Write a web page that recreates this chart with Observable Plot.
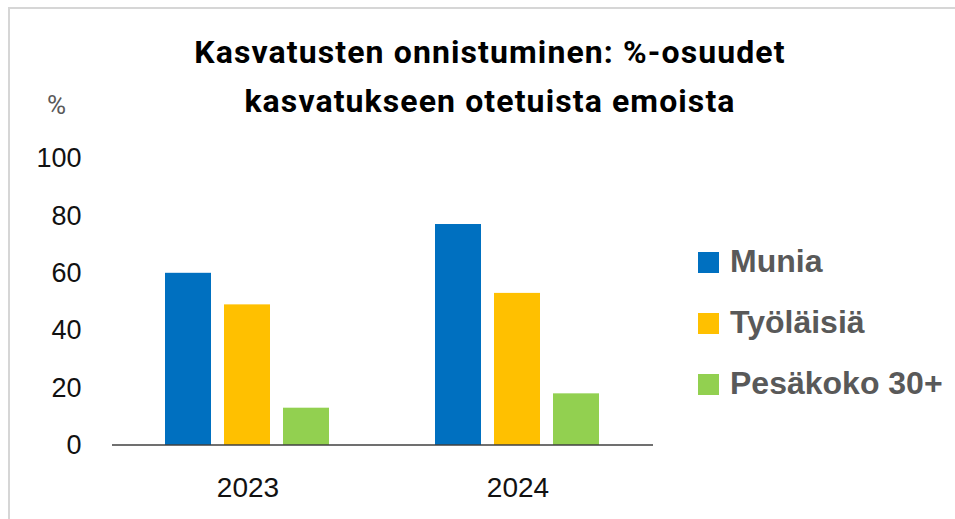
<!DOCTYPE html>
<html><head><meta charset="utf-8">
<script src="https://cdn.jsdelivr.net/npm/d3@7"></script>
<script src="https://cdn.jsdelivr.net/npm/@observablehq/plot@0.6"></script>
<style>
html,body{margin:0;padding:0;background:#fff;overflow:hidden}
#wrap{position:relative;width:955px;height:519px;overflow:hidden;background:#fff}
#border{position:absolute;left:8px;top:7px;width:1000px;height:600px;border:2px solid #d6d6d6;box-sizing:border-box}
.t{position:absolute;left:0;width:980px;text-align:center;font-family:Roboto,"Liberation Sans",sans-serif;font-weight:bold;font-size:32px;line-height:32px;letter-spacing:1.1px;color:#000;white-space:nowrap}
#unit{position:absolute;left:47px;top:92px;font-family:Roboto,"Liberation Sans",sans-serif;font-size:26px;line-height:26px;color:#595959}
.lg{position:absolute;left:0;font-family:"Liberation Sans",Arial,sans-serif;font-weight:bold;font-size:32px;line-height:32px;color:#595959;white-space:nowrap}
.sw{position:absolute;left:698px;width:21px;height:21px}
.lt{position:absolute;left:730px;top:0}
#chart{position:absolute;left:0;top:0}
</style></head>
<body><div id="wrap"><div id="border"></div><div id="chart"></div>
<div class="t" id="t1" style="top:36px"></div>
<div class="t" id="t2" style="top:85px"></div>
<div id="unit">%</div>
<div id="legend"></div>
</div>
<script>
const titleLines = ["Kasvatusten onnistuminen: %-osuudet", "kasvatukseen otetuista emoista"];
const unitLabel = "%";
const years = ["2023", "2024"];
const series = ["Munia", "Työläisiä", "Pesäkoko 30+"];
const colors = ["#0070C0", "#FFC000", "#92D050"];
const munia = [60, 77];
const tyolaisia = [49, 53];
const pesakoko = [13, 18];
const yTicks = [0, 20, 40, 60, 80, 100];

document.getElementById("t1").textContent = titleLines[0];
document.getElementById("t2").textContent = titleLines[1];
document.getElementById("unit").textContent = unitLabel;

const valuesBySeries = [munia, tyolaisia, pesakoko];
const data = years.flatMap((y, i) => series.map((s, j) => ({year: y, series: s, value: valuesBySeries[j][i]})));

const chart = Plot.plot({
  width: 955, height: 519,
  marginLeft: 112, marginRight: 302, marginTop: 158, marginBottom: 74,
  style: {fontFamily: "Liberation Sans, Arial, sans-serif", color: "#111", background: "transparent", overflow: "visible"},
  fx: {domain: years, paddingInner: 0.336, paddingOuter: 0.168, label: null},
  x: {domain: series, paddingInner: 0.217, paddingOuter: 0.108, axis: null},
  y: {domain: [0, 100], label: null},
  color: {domain: series, range: colors},
  marks: [
    Plot.axisY({ticks: yTicks, tickSize: 0, tickPadding: 77, fontSize: 27, label: null, fill: "#111"}),
    Plot.axisFx({anchor: "bottom", tickSize: 0, tickPadding: 32, fontSize: 28, label: null, fill: "#111"}),
    Plot.barY(data, {fx: "year", x: "series", y: "value", fill: "series"})
  ]
});
document.getElementById("chart").appendChild(chart);

// baseline spanning the full fx range
const fxr = chart.scale("fx").range;
const y0 = chart.scale("y").apply(0);
d3.select(chart).append("line")
  .attr("x1", fxr[0]).attr("x2", fxr[1]).attr("y1", y0).attr("y2", y0)
  .attr("stroke", "#404040").attr("stroke-width", 1.6);

// legend
const lg = document.getElementById("legend");
const rowTops = [245, 306, 367];
series.forEach((s, i) => {
  const row = document.createElement("div");
  row.className = "lg";
  row.style.top = rowTops[i] + "px";
  const sw = document.createElement("div");
  sw.className = "sw"; sw.style.top = "7px"; sw.style.background = colors[i];
  const tx = document.createElement("div");
  tx.className = "lt"; tx.textContent = s;
  row.appendChild(sw); row.appendChild(tx);
  lg.appendChild(row);
});
</script></body></html>
